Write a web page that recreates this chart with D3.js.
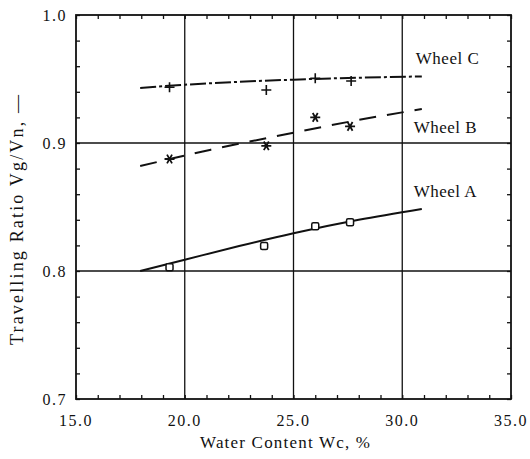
<!DOCTYPE html>
<html>
<head>
<meta charset="utf-8">
<script src="https://cdn.jsdelivr.net/npm/d3@7"></script>
<style>
  body { margin: 0; background: #fff; }
  text { font-family: "Liberation Serif", "DejaVu Serif", serif; fill: #111; }
</style>
</head>
<body>
<div id="chart"></div>
<script>
const width = 530;
const height = 459;
const margin = { top: 15, right: 19, bottom: 60, left: 76 };

// measured points
const wheelA_x = [19.3, 23.65, 26.0, 27.6];
const wheelA_y = [0.803, 0.8195, 0.835, 0.838];
const wheelB_x = [19.3, 23.75, 26.0, 27.6];
const wheelB_y = [0.8875, 0.8978, 0.920, 0.913];
const wheelC_x = [19.3, 23.75, 26.0, 27.65];
const wheelC_y = [0.9435, 0.9414, 0.9505, 0.9484];

// fitted curves
const curveA_x = [17.95, 20.0, 22.5, 25.0, 28.0, 30.9];
const curveA_y = [0.800, 0.8088, 0.8195, 0.8295, 0.8400, 0.8485];
const curveB_x = [17.95, 21.2, 25.0, 28.0, 30.9];
const curveB_y = [0.882, 0.8948, 0.908, 0.918, 0.9265];
const curveC_x = [17.95, 20.0, 25.0, 28.0, 30.9];
const curveC_y = [0.943, 0.9455, 0.9495, 0.951, 0.952];

const xTicks = [15, 20, 25, 30, 35];
const yTicks = [0.7, 0.8, 0.9, 1.0];
const labels = ["Wheel C", "Wheel B", "Wheel A"];
const labelPos = [[30.9, 0.962], [30.8, 0.908], [30.8, 0.858]];

const svg = d3.select("#chart").append("svg")
  .attr("width", width)
  .attr("height", height);

const x = d3.scaleLinear().domain([15, 35]).range([margin.left, width - margin.right]);
const y = d3.scaleLinear().domain([0.7, 1.0]).range([height - margin.bottom, margin.top]);

const g = svg.append("g");

// grid lines
g.selectAll(".vgrid")
  .data([20, 25, 30])
  .enter()
  .append("line")
  .attr("x1", d => x(d)).attr("x2", d => x(d))
  .attr("y1", y(0.7)).attr("y2", y(1.0))
  .attr("stroke", "#111").attr("stroke-width", 1.3);

g.selectAll(".hgrid")
  .data([0.8, 0.9])
  .enter()
  .append("line")
  .attr("x1", x(15)).attr("x2", x(35))
  .attr("y1", d => y(d)).attr("y2", d => y(d))
  .attr("stroke", "#111").attr("stroke-width", 1.3);

// axes, ticks inside
const fmt = d => d.toFixed(1);
const xMinor = d3.range(15, 35.01, 1);
const yMinor = d3.range(0.7, 1.001, 0.02);

svg.append("g")
  .attr("transform", `translate(0,${y(0.7)})`)
  .call(d3.axisBottom(x).tickValues(xMinor).tickSize(-4).tickFormat(""))
  .call(a => a.select(".domain").remove());
svg.append("g")
  .attr("transform", `translate(0,${y(1.0)})`)
  .call(d3.axisTop(x).tickValues(xMinor).tickSize(-4).tickFormat(""))
  .call(a => a.select(".domain").remove());
svg.append("g")
  .attr("transform", `translate(${x(15)},0)`)
  .call(d3.axisLeft(y).tickValues(yMinor).tickSize(-4).tickFormat(""))
  .call(a => a.select(".domain").remove());
svg.append("g")
  .attr("transform", `translate(${x(35)},0)`)
  .call(d3.axisRight(y).tickValues(yMinor).tickSize(-4).tickFormat(""))
  .call(a => a.select(".domain").remove());

svg.selectAll(".tick line").attr("stroke", "#111").attr("stroke-width", 1.3);

svg.append("rect")
  .attr("x", x(15)).attr("y", y(1.0))
  .attr("width", x(35) - x(15)).attr("height", y(0.7) - y(1.0))
  .attr("fill", "none").attr("stroke", "#111").attr("stroke-width", 1.8);

// tick labels
svg.selectAll(".xlab")
  .data(xTicks)
  .enter()
  .append("text")
  .attr("x", d => x(d))
  .attr("y", y(0.7) + 27)
  .attr("text-anchor", "middle")
  .style("font-size", "16px")
  .style("letter-spacing", "1.5px")
  .text(fmt);

svg.selectAll(".ylab")
  .data(yTicks)
  .enter()
  .append("text")
  .attr("x", x(15) - 9)
  .attr("y", d => y(d) + 6)
  .attr("text-anchor", "end")
  .style("font-size", "16px")
  .style("letter-spacing", "1.5px")
  .text(fmt);

svg.append("text")
  .attr("x", 285)
  .attr("y", 448)
  .attr("text-anchor", "middle")
  .attr("textLength", 170)
  .attr("lengthAdjust", "spacing")
  .style("font-size", "17px")
  .text("Water Content Wc, %");

svg.append("text")
  .attr("transform", `translate(23,${220}) rotate(-90)`)
  .attr("text-anchor", "middle")
  .attr("textLength", 250)
  .attr("lengthAdjust", "spacing")
  .style("font-size", "18px")
  .text("Travelling Ratio Vg/Vn, \u2014");

// curves
const line = d3.line().curve(d3.curveMonotoneX);
const curves = [
  { xs: curveA_x, ys: curveA_y, dash: null },
  { xs: curveB_x, ys: curveB_y, dash: "17,11" },
  { xs: curveC_x, ys: curveC_y, dash: "16,3,3,3" }
];
svg.selectAll(".curve")
  .data(curves)
  .enter()
  .append("path")
  .attr("d", d => line(d.xs.map((v, i) => [x(v), y(d.ys[i])])))
  .attr("fill", "none")
  .attr("stroke", "#111")
  .attr("stroke-width", 2)
  .attr("stroke-dasharray", d => d.dash);

// markers
svg.selectAll(".sq")
  .data(wheelA_x.map((v, i) => [v, wheelA_y[i]]))
  .enter()
  .append("rect")
  .attr("x", d => x(d[0]) - 3.5)
  .attr("y", d => y(d[1]) - 3.5)
  .attr("width", 7).attr("height", 7)
  .attr("rx", 1.5)
  .attr("fill", "#fff")
  .attr("stroke", "#111")
  .attr("stroke-width", 1.5);

const star = d3.symbol().type(d3.symbolAsterisk).size(70);
svg.selectAll(".star")
  .data(wheelB_x.map((v, i) => [v, wheelB_y[i]]))
  .enter()
  .append("path")
  .attr("d", star)
  .attr("transform", d => `translate(${x(d[0])},${y(d[1])}) rotate(90)`)
  .attr("fill", "none")
  .attr("stroke", "#111")
  .attr("stroke-width", 1.8);

svg.selectAll(".plus")
  .data(wheelC_x.map((v, i) => [v, wheelC_y[i]]))
  .enter()
  .append("path")
  .attr("d", d => {
    const cx = x(d[0]), cy = y(d[1]);
    return `M${cx - 5},${cy}H${cx + 5}M${cx},${cy - 5}V${cy + 5}`;
  })
  .attr("fill", "none")
  .attr("stroke", "#111")
  .attr("stroke-width", 1.6);

// series labels
svg.selectAll(".wlabel")
  .data(labels)
  .enter()
  .append("text")
  .attr("x", (d, i) => x(labelPos[i][0]) - 6)
  .attr("y", (d, i) => y(labelPos[i][1]))
  .style("font-size", "17px")
  .style("letter-spacing", "0.5px")
  .text(d => d);
</script>
</body>
</html>
